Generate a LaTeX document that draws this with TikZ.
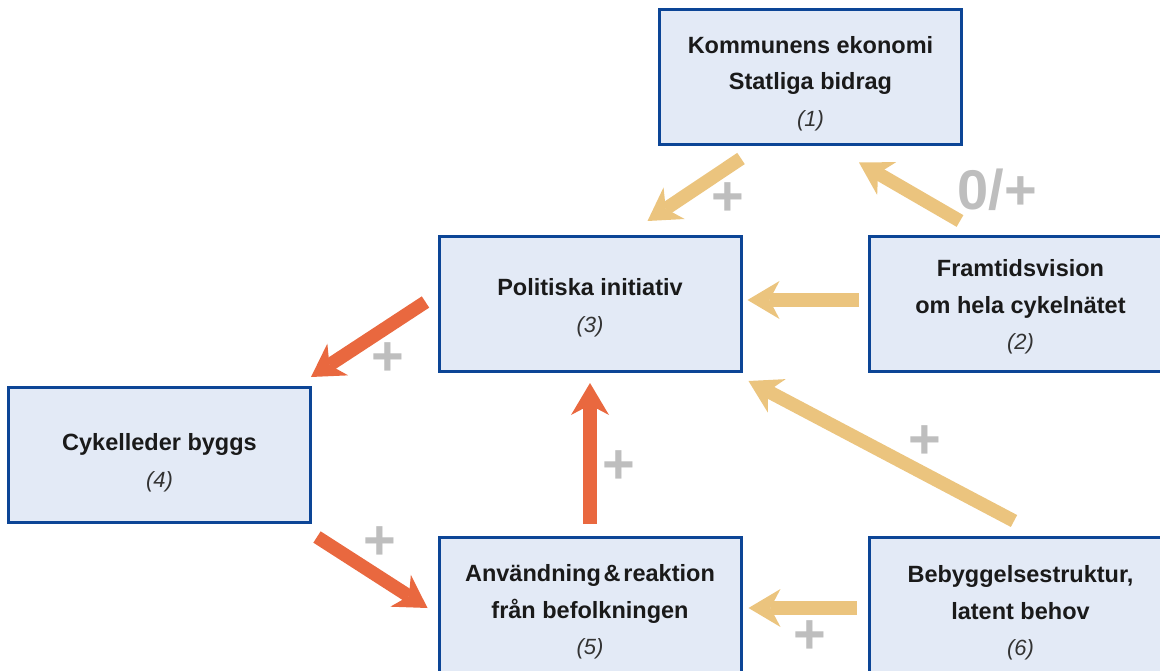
\documentclass[tikz,border=0pt]{standalone}
\usepackage{fontspec}
\setmainfont{Liberation Sans}
\usetikzlibrary{arrows.meta}
\definecolor{boxfill}{HTML}{E3EAF6}
\definecolor{boxline}{HTML}{0C4596}
\definecolor{yarr}{HTML}{EBC47E}
\definecolor{rarr}{HTML}{E9683F}
\definecolor{plusgray}{HTML}{BEBEBE}
\definecolor{txt}{HTML}{1A1A1A}
\definecolor{numtxt}{HTML}{333333}
\tikzset{
  box/.style={draw=boxline, fill=boxfill, line width=3pt, rectangle,
    minimum width=302pt, minimum height=135pt, inner sep=0pt},
  boxtext/.style={align=center, inner sep=0pt,
    text=txt, font=\bfseries\fontsize{23.5}{36.5}\selectfont},
  arr/.style={line width=13.5pt,
    -{Stealth[length=32pt,width=38pt,inset=10pt,line width=0pt]}},
  yarrow/.style={arr, draw=yarr, fill=yarr},
  rarrow/.style={arr, draw=rarr, fill=rarr},
  plus/.style={text=plusgray, font=\bfseries\fontsize{56}{56}\selectfont, inner sep=0pt},
}
\newcommand{\num}[1]{{\mdseries\itshape\color{numtxt}\fontsize{22}{36.5}\selectfont(#1)}}
\begin{document}
\begin{tikzpicture}[x=1pt,y=-1pt]
\useasboundingbox (0,0) rectangle (1160,671);
\clip (0,0) rectangle (1160,671);
\node[box] (n1) at (810.5,77.5) {};
\node[box] (n3) at (590,304) {};
\node[box] (n2) at (1020.5,304) {};
\node[box] (n4) at (159.5,455) {};
\node[box] (n5) at (590,605) {};
\node[box] (n6) at (1020.5,605) {};
\node[boxtext] (t1) at ([shift={(0,6)}]n1.center) {Kommunens ekonomi\\Statliga bidrag\\\num{1}};
\node[boxtext] (t3) at ([shift={(0,4)}]n3.center) {Politiska initiativ\\\num{3}};
\node[boxtext] (t2) at ([shift={(0,3)}]n2.center) {Framtidsvision\\om hela cykelnätet\\\num{2}};
\node[boxtext] (t4) at ([shift={(0,8)}]n4.center) {Cykelleder byggs\\\num{4}};
\node[boxtext] (t5) at ([shift={(0,7)}]n5.center) {Användning\hspace{0.12em}\&\hspace{0.12em}reaktion\\från befolkningen\\\num{5}};
\node[boxtext] (t6) at ([shift={(0,8)}]n6.center) {Bebyggelsestruktur,\\latent behov\\\num{6}};
% connectors
\draw[yarrow] ([shift={(83,12)}]n1.south west) -- ([shift={(210,-14)}]n3.north west);
\draw[yarrow] ([shift={(92,-14)}]n2.north west) -- ([shift={(201,16)}]n1.south west);
\draw[yarrow] ([shift={(-9,-4)}]n2.west) -- ([shift={(5,-4)}]n3.east);
\draw[yarrow] ([shift={(146,-15)}]n6.north west) -- ([shift={(6,8)}]n3.south east);
\draw[yarrow] ([shift={(-11,3)}]n6.west) -- ([shift={(6,3)}]n5.east);
\draw[rarrow] ([shift={(-12,-2)}]n3.west) -- ([shift={(-1,-9)}]n4.north east);
\draw[rarrow] ([shift={(5,13)}]n4.south east) -- ([shift={(-10,3)}]n5.west);
\draw[rarrow] ([shift={(0,-12)}]n5.north) -- ([shift={(0,10)}]n3.south);
% labels
\node[plus] (p1) at (728,199) {+};
\node[plus] (p2) at (997,190) {0/+};
\node[plus] (p3) at (388,359) {+};
\node[plus] (p4) at (619,467) {+};
\node[plus] (p5) at (925,442) {+};
\node[plus] (p6) at (380,543) {+};
\node[plus] (p7) at (810,637) {+};
\end{tikzpicture}
\end{document}
